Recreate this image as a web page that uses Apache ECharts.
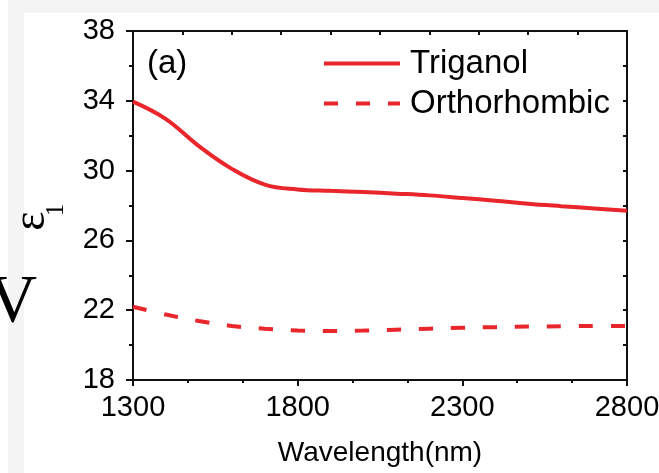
<!DOCTYPE html>
<html><head><meta charset="utf-8">
<script src="https://cdn.jsdelivr.net/npm/echarts@6/dist/echarts.min.js"></script>
<style>html,body{margin:0;padding:0;background:#fff}#c{width:659px;height:473px}</style>
</head><body><div id="c"></div>
<script>
const wavelengths = [1300,1400,1500,1600,1700,1800,1900,2000,2100,2200,2300,2400,2500,2600,2700,2800];
const triganol = [33.95,32.95,31.4,30.1,29.2,28.92,28.84,28.77,28.68,28.58,28.43,28.27,28.1,27.96,27.83,27.7];
const orthorhombic = [22.2,21.75,21.38,21.1,20.94,20.84,20.81,20.83,20.88,20.94,20.99,21.03,21.06,21.08,21.1,21.1];
const seriesNames = ['Triganol','Orthorhombic'];
const xTickLabels = [1300,1800,2300,2800];
const yTickLabels = [18,22,26,30,34,38];
const yMinorTicks = [20,24,28,32,36];
const topTicks = [1300,1450,1600,1750,1900,2050,2200,2350,2500,2650,2800];
const rightTicks = [18,20,22,24,26,28,30,32,34,36,38];
const yTitle = 'ε';
const yTitleSub = '1';

const RED = '#e8262b';
const INK = '#111';
const FONT = "'Liberation Sans', Arial, sans-serif";
const SERIF = "'Liberation Serif', 'Times New Roman', serif";

const chart = echarts.init(document.getElementById('c'), null, {renderer: 'canvas'});
const axisLine = {show: true, lineStyle: {color: INK, width: 2}};
const plain = v => String(v);

chart.setOption({
  animation: false,
  backgroundColor: '#fff',
  grid: {left: 133, right: 32, top: 31, bottom: 93, outerBoundsMode: 'none'},
  graphic: [
    {type: 'rect', z: -10, shape: {x: 8, y: 0, width: 651, height: 13}, style: {fill: '#f4f4f4'}},
    {type: 'rect', z: -10, shape: {x: 8, y: 13, width: 16, height: 460}, style: {fill: '#f4f4f4'}},
    {type: 'text', style: {text: 'V', x: 37, y: 337, align: 'right', verticalAlign: 'bottom', font: '68px ' + SERIF, fill: '#000'}},
    {type: 'text', style: {text: '(a)', x: 147, y: 64, align: 'left', verticalAlign: 'middle', font: '33px ' + FONT, fill: '#000'}},
    {type: 'text', x: 31.5, y: 221, rotation: Math.PI / 2,
     style: {text: yTitle, x: 0, y: 0, align: 'center', verticalAlign: 'middle', font: '46px ' + SERIF, fill: '#000'}},
    {type: 'text', x: 56.5, y: 210, rotation: Math.PI / 2,
     style: {text: yTitleSub, x: 0, y: 0, align: 'center', verticalAlign: 'middle', font: '25px ' + SERIF, fill: '#000'}}
  ],
  legend: {
    data: seriesNames,
    orient: 'vertical',
    left: 322, top: 47, padding: 0,
    itemWidth: 76, itemHeight: 14, itemGap: 7,
    itemStyle: {opacity: 0},
    lineStyle: {width: 4},
    textStyle: {fontSize: 33, fontFamily: FONT, color: '#000', padding: [0,0,0,5]}
  },
  xAxis: [
    {
      type: 'value', min: 1300, max: 2800, interval: 500,
      name: 'Wavelength(nm)', nameLocation: 'middle', nameGap: 59,
      nameTextStyle: {fontSize: 28, fontFamily: FONT, color: '#000'},
      axisLine: axisLine,
      axisTick: {show: true, inside: false, length: 6, lineStyle: {color: INK, width: 2}},
      minorTick: {show: true, splitNumber: 3, length: 3, lineStyle: {color: INK, width: 2}},
      axisLabel: {customValues: xTickLabels, formatter: plain, fontSize: 29, fontFamily: FONT, color: '#000', margin: 13},
      splitLine: {show: false}
    },
    {
      type: 'value', position: 'top', min: 1300, max: 2800,
      axisLine: axisLine,
      axisTick: {show: true, inside: true, length: 4, customValues: topTicks, lineStyle: {color: INK, width: 2}},
      axisLabel: {show: false}, splitLine: {show: false}
    }
  ],
  yAxis: [
    {
      type: 'value', position: 'left', min: 18, max: 38, interval: 2,
      axisLine: axisLine,
      axisTick: {show: true, inside: false, length: 7, customValues: yTickLabels, lineStyle: {color: INK, width: 2}},
      axisLabel: {customValues: yTickLabels, formatter: plain, fontSize: 29, fontFamily: FONT, color: '#000', margin: 18},
      splitLine: {show: false}
    },
    {
      type: 'value', position: 'left', min: 18, max: 38, interval: 2,
      axisLine: {show: false},
      axisTick: {show: true, inside: false, length: 4, customValues: yMinorTicks, lineStyle: {color: INK, width: 2}},
      axisLabel: {show: false}, splitLine: {show: false}
    },
    {
      type: 'value', position: 'right', min: 18, max: 38, interval: 2,
      axisLine: axisLine,
      axisTick: {show: true, inside: true, length: 4, customValues: rightTicks, lineStyle: {color: INK, width: 2}},
      axisLabel: {show: false}, splitLine: {show: false}
    }
  ],
  series: [
    {
      name: seriesNames[0], type: 'line', xAxisIndex: 0, yAxisIndex: 0,
      data: wavelengths.map((w, i) => [w, triganol[i]]),
      smooth: 0.4, symbol: 'none', color: RED,
      lineStyle: {color: RED, width: 4}
    },
    {
      name: seriesNames[1], type: 'line', xAxisIndex: 0, yAxisIndex: 0,
      data: wavelengths.map((w, i) => [w, orthorhombic[i]]),
      smooth: 0.4, symbol: 'none', color: RED,
      lineStyle: {color: RED, width: 4, type: [14, 18]}
    }
  ]
});
</script></body></html>
